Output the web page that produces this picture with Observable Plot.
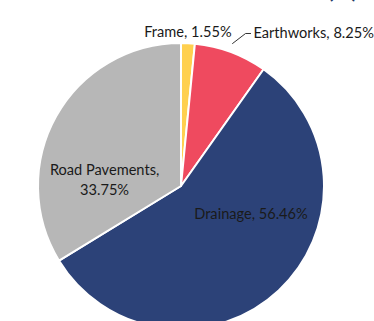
<!DOCTYPE html>
<html><head><meta charset="utf-8">
<script src="https://cdn.jsdelivr.net/npm/d3@7"></script>
<script src="https://cdn.jsdelivr.net/npm/@observablehq/plot@0.6"></script>
<style>body{margin:0;background:#fff;overflow:hidden}</style>
</head><body><div id="chart"></div>
<script>
// ---- data ----
const categories = ["Frame", "Earthworks", "Drainage", "Road Pavements"];
const shares = [1.55, 8.25, 56.46, 33.75];
const labelTexts = ["Frame, 1.55%", "Earthworks, 8.25%", "Drainage, 56.46%", "Road Pavements,\n33.75%"];
const titleText = "(%)";

// ---- styles / layout ----
const colors = ["#FFD04F", "#EF4A5F", "#2C4278", "#B7B7B7"];
const W = 374, H = 321, cx = 181, cy = 186, R = 143;
// label anchor points in pie-radius units (relative to pie centre)
const labelLayout = [
  {x: 0.045, y: 1.091, anchor: "middle"},
  {x: 0.503, y: 1.07, anchor: "start"},
  {x: 0.486, y: -0.182, anchor: "middle"},
  {x: -0.538, y: 0.056, anchor: "middle"}
];
const leader = [{x: 0.357, y: 1.0}, {x: 0.448, y: 1.07}, {x: 0.483, y: 1.07}];

const data = categories.map((c, i) => ({category: c, value: shares[i], color: colors[i]}));
const arcs = d3.pie().sort(null).value(d => d.value).startAngle(0).endAngle(2 * Math.PI)(data);
const labels = labelTexts.map((t, i) => ({text: t, ...labelLayout[i]}));

function pieMark(index, scales) {
  const x0 = scales.x(0), y0 = scales.y(0), r = scales.x(1) - scales.x(0);
  const arc = d3.arc().innerRadius(0).outerRadius(r);
  const g = d3.create("svg:g").attr("transform", `translate(${x0},${y0})`);
  g.selectAll("path").data(arcs).join("path")
    .attr("d", arc)
    .attr("fill", d => d.data.color)
    .attr("stroke", "#fff")
    .attr("stroke-width", 2)
    .attr("stroke-linejoin", "round");
  return g.node();
}

const font = "Lato, 'Open Sans', sans-serif";
const chart = Plot.plot({
  width: W, height: H, margin: 0,
  style: {fontFamily: font, background: "#fff", overflow: "visible"},
  x: {axis: null, domain: [-cx / R, (W - cx) / R], range: [0, W]},
  y: {axis: null, domain: [(cy - H) / R, cy / R], range: [H, 0]},
  marks: [
    pieMark,
    Plot.line(leader, {x: "x", y: "y", stroke: "#333", strokeWidth: 1}),
    Plot.text(labels.filter(d => d.anchor === "middle"), {x: "x", y: "y", text: "text", textAnchor: "middle", fontSize: 14.6, lineHeight: 1.35, fill: "#1a1a1a"}),
    Plot.text(labels.filter(d => d.anchor === "start"), {x: "x", y: "y", text: "text", textAnchor: "start", fontSize: 14.6, fill: "#1a1a1a"}),
    Plot.text([titleText], {frameAnchor: "top-right", lineAnchor: "top", dx: -17, dy: -18, fontSize: 22, fontWeight: "bold", fill: "#1F3864"})
  ]
});
document.getElementById("chart").appendChild(chart);
</script>
</body></html>
